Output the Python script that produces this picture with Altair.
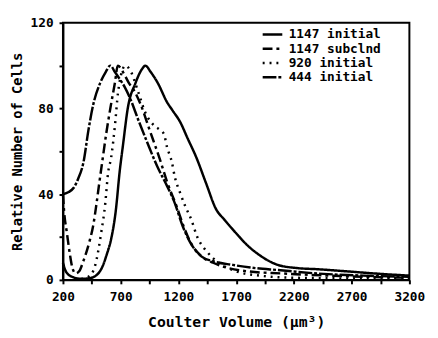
import altair as alt
import pandas as pd

series_names = ["1147 initial", "1147 subclnd", "920 initial", "444 initial"]

# 1147 initial (solid, right-most peak)
x_1147i = [200, 225, 277, 361, 446, 531, 580, 617, 659, 690, 720, 761, 829, 880, 914, 960,
           1020, 1101, 1150, 1212, 1280, 1356, 1440, 1526, 1600, 1696, 1800, 1891, 2061,
           2232, 2400, 2656, 2900, 3200]
y_1147i = [8, 4, 1.5, 0.5, 1, 5, 12, 19, 33, 50, 63, 80, 92, 98, 100, 97,
           92, 83, 79, 74, 66, 57, 45, 33, 28, 22, 16, 12, 7,
           5.5, 5, 4, 3, 2]

# 1147 subclnd (dashed)
x_1147s = [200, 210, 234, 260, 280, 310, 340, 378, 430, 464, 489, 514, 545, 574, 610, 650,
           675, 720, 770, 820, 872, 950, 1041, 1100, 1186, 1245, 1300, 1400, 1500, 1600,
           1800, 2100, 2500, 3200]
y_1147s = [40, 32, 22, 12, 6, 3, 4, 9, 18, 26, 35, 45, 57, 68, 80, 92,
           100, 97, 92, 88, 82, 70, 56, 46, 34, 25, 18, 11, 8, 6,
           4, 3, 2, 1]

# 920 initial (dotted)
x_920 = [300, 400, 450, 480, 531, 565, 591, 617, 650, 676, 700, 740, 790, 850, 914, 990,
         1040, 1075, 1101, 1143, 1169, 1212, 1262, 1313, 1356, 1450, 1550, 1700, 1900,
         2200, 3200]
y_920 = [0, 1, 3, 7, 22, 35, 50, 57, 72, 87, 95, 100, 97, 88, 78, 72,
         70, 68, 62, 55, 48, 41, 34, 28, 21, 13, 8, 4, 2,
         1, 0.5]

# 444 initial (dash-dot, left-most peak)
x_444 = [200, 250, 293, 330, 378, 421, 463, 523, 570, 610, 650, 700, 735, 787, 850, 931,
         1016, 1100, 1160, 1245, 1297, 1398, 1500, 1670, 1866, 2061, 2400, 2800, 3200]
y_444 = [40, 41, 43, 47, 55, 70, 82, 92, 97, 100, 97, 93, 90, 84, 75, 64,
         53, 44, 37, 24, 18, 11, 8.7, 7, 5.5, 4.6, 3, 2, 1.5]

xs = [x_1147i, x_1147s, x_920, x_444]
ys = [y_1147i, y_1147s, y_920, y_444]

rows = []
for name, xv, yv in zip(series_names, xs, ys):
    for i, (a, b) in enumerate(zip(xv, yv)):
        rows.append({"series": name, "volume": a, "cells": b, "order": i})
df = pd.DataFrame(rows)

x_ticks = list(range(200, 3201, 250))
y_ticks = list(range(0, 121, 20))

FONT = "DejaVu Sans Mono"

chart = alt.Chart(df).mark_line(strokeWidth=2.5, color="black", interpolate="monotone").encode(
    x=alt.X("volume:Q",
            scale=alt.Scale(domain=[200, 3200], nice=False, zero=False),
            axis=alt.Axis(values=x_ticks, format="d",
                          labelExpr="(datum.value - 200) % 500 == 0 ? datum.label : ''",
                          title="Coulter Volume (μm³)", grid=False,
                          labelFont=FONT, labelFontSize=13, labelFontWeight="bold",
                          titleFont=FONT, titleFontSize=15, titleFontWeight="bold",
                          tickSize=4, tickWidth=2, labelPadding=7, titlePadding=11,
                          domainWidth=2, domainColor="black", tickColor="black",
                          labelColor="black", titleColor="black", labelFlush=False)),
    y=alt.Y("cells:Q",
            scale=alt.Scale(domain=[0, 120], nice=False),
            axis=alt.Axis(values=y_ticks,
                          labelExpr="datum.value % 40 == 0 ? datum.label : ''",
                          title="Relative Number of Cells", grid=False,
                          labelFont=FONT, labelFontSize=13, labelFontWeight="bold",
                          titleFont=FONT, titleFontSize=14, titleFontWeight="bold",
                          tickSize=4, tickWidth=2, labelPadding=6, titlePadding=6,
                          domainWidth=2, domainColor="black", tickColor="black",
                          labelColor="black", titleColor="black")),
    strokeDash=alt.StrokeDash("series:N",
                              scale=alt.Scale(domain=series_names,
                                              range=[[1, 0], [10, 4, 3, 4], [2, 5], [14, 2, 3, 2]]),
                              legend=alt.Legend(title=None, orient="none", legendX=202, legendY=5,
                                                symbolType="stroke", symbolSize=400,
                                                symbolStrokeWidth=2.5, symbolStrokeColor="black",
                                                labelFont=FONT, labelFontSize=13, labelFontWeight="bold",
                                                labelColor="black", rowPadding=0.5, padding=0,
                                                clipHeight=14, labelOffset=5)),
    detail="series:N",
    order="order:Q",
).properties(
    width=353, height=262,
    autosize=alt.AutoSizeParams(type="none"),
    padding={"left": 56, "top": 12, "right": 21, "bottom": 48},
).configure_view(stroke="black", strokeWidth=2)

chart.save("out.html", embed_options={"renderer": "svg", "actions": False})
